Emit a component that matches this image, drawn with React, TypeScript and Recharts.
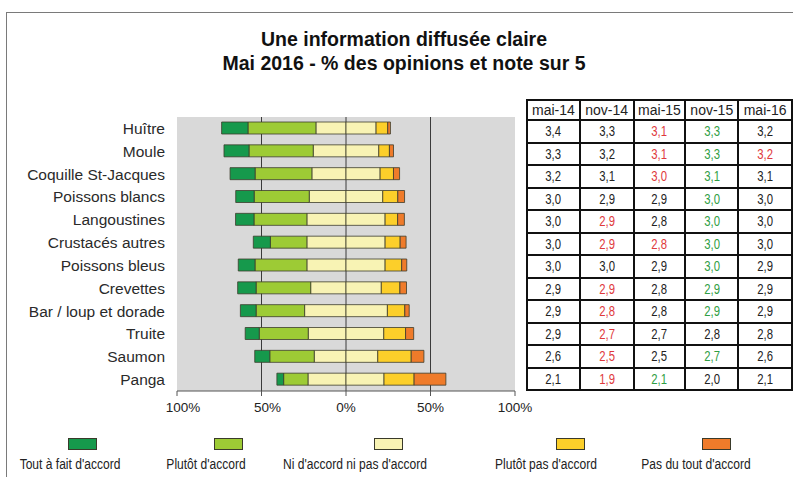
import { Bar, BarChart, CartesianGrid, XAxis, YAxis } from "recharts";

const FONT = "'Liberation Sans', Arial, sans-serif";

const CATEGORIES = [
  "Huître",
  "Moule",
  "Coquille St-Jacques",
  "Poissons blancs",
  "Langoustines",
  "Crustacés autres",
  "Poissons bleus",
  "Crevettes",
  "Bar / loup et dorade",
  "Truite",
  "Saumon",
  "Panga",
];

// % des opinions (mai 2016)
const TOUT_A_FAIT = [15.6, 14.8, 14.8, 10.9, 10.9, 10.1, 9.9, 10.9, 9.3, 8.3, 8.9, 4.0];
const PLUTOT = [40.2, 38.0, 33.6, 32.6, 31.3, 21.6, 30.7, 32.3, 28.7, 29.0, 26.3, 14.4];
const NEUTRE = [35.6, 38.8, 40.4, 43.5, 46.3, 46.3, 46.3, 41.8, 49.0, 44.7, 37.6, 45.0];
const PLUTOT_PAS = [6.9, 6.3, 7.9, 8.9, 7.4, 8.9, 9.8, 11.0, 10.3, 12.9, 19.8, 17.8];
const PAS_DU_TOUT = [1.6, 2.4, 3.6, 4.0, 4.0, 3.5, 3.0, 3.9, 2.6, 4.8, 7.5, 18.8];

const LEGEND_LABELS = [
  "Tout à fait d'accord",
  "Plutôt d'accord",
  "Ni d'accord ni pas d'accord",
  "Plutôt pas d'accord",
  "Pas du tout d'accord",
];
const X_DOMAIN = [-100, 100];
const X_TICKS = [-100, -50, 0, 50, 100];
const GRID_AT = [-50, 0, 50];

// notes sur 5
const PERIODS = ["mai-14", "nov-14", "mai-15", "nov-15", "mai-16"];
const NOTE_MAI14 = [3.4, 3.3, 3.2, 3.0, 3.0, 3.0, 3.0, 2.9, 2.9, 2.9, 2.6, 2.1];
const NOTE_NOV14 = [3.3, 3.2, 3.1, 2.9, 2.9, 2.9, 3.0, 2.9, 2.8, 2.7, 2.5, 1.9];
const NOTE_MAI15 = [3.1, 3.1, 3.0, 2.9, 2.8, 2.8, 2.9, 2.8, 2.8, 2.7, 2.5, 2.1];
const NOTE_NOV15 = [3.3, 3.3, 3.1, 3.0, 3.0, 3.0, 3.0, 2.9, 2.9, 2.8, 2.7, 2.0];
const NOTE_MAI16 = [3.2, 3.2, 3.1, 3.0, 3.0, 3.0, 2.9, 2.9, 2.9, 2.8, 2.6, 2.1];
// -1 = baisse significative, 1 = hausse significative
const TREND_MAI14 = [0, 0, 0, 0, 0, 0, 0, 0, 0, 0, 0, 0];
const TREND_NOV14 = [0, 0, 0, 0, -1, -1, 0, -1, -1, -1, -1, -1];
const TREND_MAI15 = [-1, -1, -1, 0, 0, -1, 0, 0, 0, 0, 0, 1];
const TREND_NOV15 = [1, 1, 1, 1, 1, 1, 1, 1, 1, 0, 1, 0];
const TREND_MAI16 = [0, -1, 0, 0, 0, 0, 0, 0, 0, 0, 0, 0];

const NOTES = [NOTE_MAI14, NOTE_NOV14, NOTE_MAI15, NOTE_NOV15, NOTE_MAI16];
const TRENDS = [TREND_MAI14, TREND_NOV14, TREND_MAI15, TREND_NOV15, TREND_MAI16];

const COLORS = ["#16994c", "#9dcb35", "#f8f3b4", "#fccf2a", "#ef7b2a"];
const TREND_COLOR: Record<string, string> = { "-1": "#e0393c", "0": "#222", "1": "#2f9e44" };
const COL_W = [51, 52, 50, 51, 52];
const LEGEND_POS = [
  { sw: 68, tx: 70 },
  { sw: 214, tx: 206 },
  { sw: 374, tx: 355 },
  { sw: 556, tx: 546 },
  { sw: 702, tx: 696 },
];

const rows = CATEGORIES.map((name, i) => ({
  name,
  neutreNeg: -NEUTRE[i] / 2,
  plutot: -PLUTOT[i],
  tout: -TOUT_A_FAIT[i],
  neutrePos: NEUTRE[i] / 2,
  plutotPas: PLUTOT_PAS[i],
  pasDuTout: PAS_DU_TOUT[i],
}));

const fmt = (v: number) => v.toFixed(1).replace(".", ",");

function XTick({ x, y, payload }: any) {
  const v = payload.value as number;
  // negative labels carry a hidden sign in the source, so they sit a bit to the right
  const dx = v < 0 ? 6 : 0;
  return (
    <text x={x + dx} y={y} dy="0.71em" textAnchor="middle" fontSize={13.5} fill="#222" fontFamily={FONT}>
      {`${Math.abs(v)}%`}
    </text>
  );
}

// vertical lines at -50 / 0 / 50 only
function gridX({ xAxis, offset }: any) {
  if (xAxis && typeof xAxis.scale === "function") return GRID_AT.map((v) => xAxis.scale(v));
  const [lo, hi] = X_DOMAIN;
  return GRID_AT.map((v) => offset.left + ((v - lo) / (hi - lo)) * offset.width);
}

function NotesTable() {
  const cell = {
    border: "2px solid #111",
    padding: 0,
    textAlign: "center" as const,
  };
  return (
    <table
      style={{
        position: "absolute",
        left: 526,
        top: 99,
        borderCollapse: "collapse",
        fontFamily: FONT,
        tableLayout: "fixed",
      }}
    >
      <tbody>
        <tr style={{ height: 20 }}>
          {PERIODS.map((p, j) => (
            <td key={p} style={{ ...cell, width: COL_W[j], fontSize: 14, color: "#222" }}>
              {p}
            </td>
          ))}
        </tr>
        {CATEGORIES.map((c, i) => (
          <tr key={c} style={{ height: 22.5 }}>
            {NOTES.map((col, j) => (
              <td key={j} style={{ ...cell, fontSize: 14.5, color: TREND_COLOR[String(TRENDS[j][i])] }}>
                <span style={{ display: "inline-block", transform: "scaleX(0.78)" }}>{fmt(col[i])}</span>
              </td>
            ))}
          </tr>
        ))}
      </tbody>
    </table>
  );
}

function LegendRow() {
  return (
    <>
      {LEGEND_LABELS.map((label, i) => (
        <div key={label}>
          <div
            style={{
              position: "absolute",
              left: LEGEND_POS[i].sw,
              top: 438,
              width: 27,
              height: 10,
              background: COLORS[i],
              border: "1px solid #3a3a2a",
            }}
          />
          <div
            style={{
              position: "absolute",
              left: LEGEND_POS[i].tx,
              top: 456,
              transform: "translateX(-50%) scaleX(0.86)",
              whiteSpace: "nowrap",
              fontSize: 14,
              color: "#222",
            }}
          >
            {label}
          </div>
        </div>
      ))}
    </>
  );
}

export default function App() {
  const barStroke = "#3c3c2c";
  return (
    <div
      style={{
        position: "absolute",
        left: 0,
        top: 0,
        width: 793,
        height: 477,
        background: "#fff",
        overflow: "hidden",
        fontFamily: FONT,
      }}
    >
      {/* cadre */}
      <div
        style={{
          position: "absolute",
          left: 6,
          top: 12,
          width: 800,
          height: 480,
          borderTop: "1.5px solid #7a7a7a",
          borderLeft: "1.5px solid #7a7a7a",
        }}
      />
      <div
        style={{
          position: "absolute",
          left: 0,
          width: 808,
          top: 27,
          textAlign: "center",
          fontWeight: "bold",
          fontSize: 19.5,
          lineHeight: "24px",
          color: "#111",
        }}
      >
        <div>Une information diffusée claire</div>
        <div>Mai 2016 - % des opinions et note sur 5</div>
      </div>

      <div style={{ position: "absolute", left: 0, top: 0 }}>
        <BarChart
          width={793}
          height={477}
          data={rows}
          layout="vertical"
          stackOffset="sign"
          barSize={12}
          margin={{ top: 117, right: 278, bottom: 56, left: 17 }}
        >
          <CartesianGrid
            horizontal={false}
            fill="#d9d9d9"
            fillOpacity={1}
            stroke="#3a3a3a"
            verticalCoordinatesGenerator={gridX}
          />
          <XAxis
            type="number"
            domain={X_DOMAIN}
            ticks={X_TICKS}
            allowDataOverflow
            stroke="#555"
            tickSize={5}
            tickMargin={6}
            tick={<XTick />}
            height={30}
          />
          <YAxis
            type="category"
            dataKey="name"
            width={160}
            axisLine={false}
            tickLine={false}
            tickMargin={6}
            tick={{ fill: "#2a2a2a", fontSize: 15.5, fontFamily: FONT }}
            interval={0}
          />
          <Bar dataKey="neutreNeg" stackId="a" fill={COLORS[2]} stroke={barStroke} strokeWidth={0.8} isAnimationActive={false} />
          <Bar dataKey="plutot" stackId="a" fill={COLORS[1]} stroke={barStroke} strokeWidth={0.8} isAnimationActive={false} />
          <Bar dataKey="tout" stackId="a" fill={COLORS[0]} stroke={barStroke} strokeWidth={0.8} isAnimationActive={false} />
          <Bar dataKey="neutrePos" stackId="a" fill={COLORS[2]} stroke={barStroke} strokeWidth={0.8} isAnimationActive={false} />
          <Bar dataKey="plutotPas" stackId="a" fill={COLORS[3]} stroke={barStroke} strokeWidth={0.8} isAnimationActive={false} />
          <Bar dataKey="pasDuTout" stackId="a" fill={COLORS[4]} stroke={barStroke} strokeWidth={0.8} isAnimationActive={false} />
        </BarChart>
      </div>

      <NotesTable />
      <LegendRow />
    </div>
  );
}
